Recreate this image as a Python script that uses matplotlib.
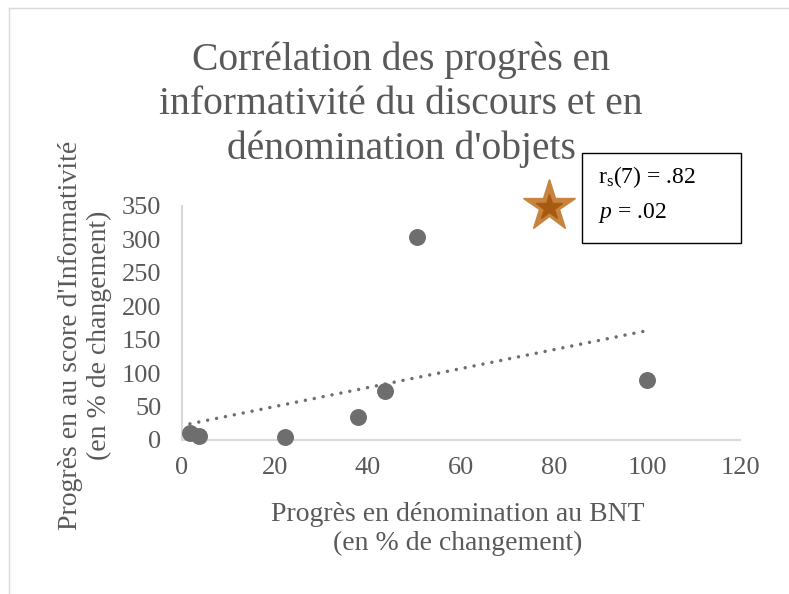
import numpy as np
import matplotlib
matplotlib.use("Agg")
import matplotlib.pyplot as plt
from matplotlib.lines import Line2D
from matplotlib.patches import Rectangle

# Data
bnt_progress = [1.7, 3.7, 22.2, 37.9, 43.6, 50.5, 100.0]
info_progress = [10, 6.4, 4, 34, 73, 303, 90]
x_ticks = [0, 20, 40, 60, 80, 100, 120]
y_ticks = [0, 50, 100, 150, 200, 250, 300, 350]
title = "Corrélation des progrès en\ninformativité du discours et en\ndénomination d'objets"
xlabel = "Progrès en dénomination au BNT\n(en % de changement)"
ylabel = "Progrès en au score d'Informativité\n(en % de changement)"

plt.rcParams['font.family'] = ['Liberation Serif', 'DejaVu Serif']
plt.rcParams['mathtext.fontset'] = 'custom'
plt.rcParams['mathtext.rm'] = 'Liberation Serif'
plt.rcParams['mathtext.it'] = 'Liberation Serif:italic'
grey = '#595959'

W, H = 789, 594
fig = plt.figure(figsize=(W / 100, H / 100), dpi=100)

def fx(px):
    return px / W

def fy(py):
    return 1 - py / H

ax = fig.add_axes([fx(182), fy(440), fx(740) - fx(182), fy(206) - fy(440)])
ax.set_xlim(0, 120)
ax.set_ylim(0, 350)
ax.set_xticks(x_ticks)
ax.set_yticks(y_ticks)
ax.tick_params(length=0, labelsize=19, labelcolor=grey)
ax.tick_params(axis='x', pad=12)
ax.tick_params(axis='y', pad=15)
for s in ['top', 'right']:
    ax.spines[s].set_visible(False)
for s in ['left', 'bottom']:
    ax.spines[s].set_color('#d9d9d9')
    ax.spines[s].set_linewidth(1.5)
ax.patch.set_alpha(0)

x = np.array(bnt_progress)
y = np.array(info_progress)
ax.scatter(x, y, s=125, color='#6e6e6e', zorder=3, clip_on=False)

m, b = np.polyfit(x, y, 1)
xt = np.array([x.min(), x.max()])
ax.plot(xt, m * xt + b, color='#6e6e6e', linestyle=(0, (0.01, 2.6)), linewidth=2.5,
        dash_capstyle='round', zorder=2)

fig.text(fx(401), fy(105), title, ha='center', va='center', fontsize=28.5, color=grey, linespacing=1.26)
fig.text(fx(458), fy(529), xlabel, ha='center', va='center', fontsize=20, color=grey, linespacing=1.2)
fig.text(fx(85), fy(335), ylabel, ha='center', va='center', fontsize=20, color=grey, rotation=90, linespacing=1.22)

# star decoration
fig.add_artist(Line2D([fx(549)], [fy(206)], marker='*', markersize=39, color='#c8843f',
                      markeredgecolor='#c8843f', transform=fig.transFigure))
fig.add_artist(Line2D([fx(549)], [fy(207)], marker='*', markersize=19, color='#a85a10',
                      markeredgecolor='#a85a10', transform=fig.transFigure))

# annotation box
fig.add_artist(Rectangle((fx(582), fy(243)), fx(741) - fx(582), fy(153) - fy(243), transform=fig.transFigure,
                         fill=True, facecolor='white', edgecolor='black', linewidth=1))
fig.text(fx(598), fy(177), r"r$_\mathregular{s}$(7) = .82", ha='left', va='center', fontsize=17, color='black')
fig.text(fx(598), fy(213), r"$\mathit{p}$ = .02", ha='left', va='center', fontsize=17, color='black')

# chart-area border (left and top)
fig.add_artist(Line2D([fx(9), fx(9)], [fy(8), 0], color='#d9d9d9', linewidth=1, transform=fig.transFigure))
fig.add_artist(Line2D([fx(9), 1], [fy(8), fy(8)], color='#d9d9d9', linewidth=1, transform=fig.transFigure))

fig.savefig("out.png", dpi=100)
